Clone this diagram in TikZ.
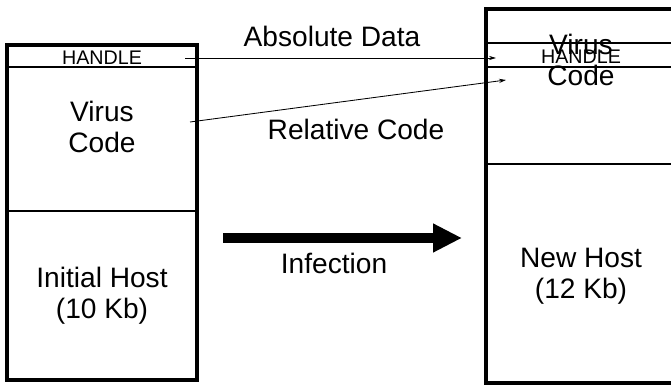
\documentclass[tikz,border=0pt]{standalone}
\usepackage{fontspec}
\setmainfont{Liberation Sans}
\usetikzlibrary{positioning,calc,arrows.meta}

\begin{document}
\begin{tikzpicture}[
    hostbox/.style={rectangle, draw, line width=2.8pt, minimum width=4.75cm, inner sep=0pt},
    boxtext/.style={font=\fontsize{20}{22}\selectfont, align=center},
    handletext/.style={font=\fontsize{14}{16}\selectfont, inner sep=0pt},
    divider/.style={line width=1.1pt},
    link/.style={-{Stealth[length=5pt, width=3pt]}, line width=0.6pt}
]

% Page frame (671 x 386 px, 40px = 1cm)
\clip (0,0) rectangle (16.775,9.65);

% Initial host (left)
\node[hostbox, minimum height=8.375cm] (old-host) at (2.55, 4.3375) {};
\draw[divider] ($(old-host.north west)+(0,-0.6)$) -- ($(old-host.north east)+(0,-0.6)$);
\draw[divider] ($(old-host.north west)+(0,-4.2)$) -- ($(old-host.north east)+(0,-4.2)$);
\node[handletext] (old-handle) at (2.55, 8.21) {HANDLE};
\node[boxtext] (old-virus) at (2.55, 6.48) {Virus\\Code};
\node[boxtext] (old-body) at (2.55, 2.26) {Initial Host\\(10 Kb)};

% New host (right), cut off by the page edge
\node[hostbox, minimum height=9.35cm] (new-host) at (14.525, 4.75) {};
\draw[divider] ($(new-host.north west)+(0,-0.9)$) -- ($(new-host.north east)+(0,-0.9)$);
\draw[divider] ($(new-host.north west)+(0,-1.5)$) -- ($(new-host.north east)+(0,-1.5)$);
\draw[divider] ($(new-host.north west)+(0,-3.925)$) -- ($(new-host.north east)+(0,-3.925)$);
\node[boxtext] (new-virus) at (14.525, 8.16) {Virus\\Code};
\node[handletext] (new-handle) at (14.525, 8.225) {HANDLE};
\node[boxtext] (new-body) at (14.525, 2.75) {New Host\\(12 Kb)};

% Absolute data / relative code links
\coordinate (abs-from) at (4.625, 8.2);
\coordinate (abs-to) at (12.4, 8.2);
\draw[link] (abs-from) -- (abs-to);
\node[boxtext] (abs-label) at (8.3, 8.75) {Absolute Data};

\coordinate (rel-from) at (4.75, 6.6);
\coordinate (rel-to) at (12.65, 7.65);
\draw[link] (rel-from) -- (rel-to);
\node[boxtext] (rel-label) at (8.9, 6.425) {Relative Code};

% Infection arrow
\coordinate (inf-from) at (5.575, 3.7);
\coordinate (inf-to) at (11.55, 3.7);
\draw[-{Triangle[length=0.725cm, width=0.675cm]}, line width=0.25cm] (inf-from) -- (inf-to);
\node[boxtext] (inf-label) at (8.35, 3.075) {Infection};

\end{tikzpicture}
\end{document}
